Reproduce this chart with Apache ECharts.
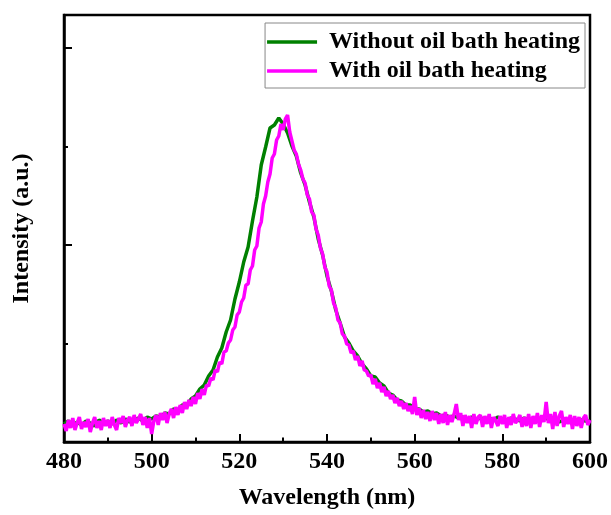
<!DOCTYPE html>
<html>
<head>
<meta charset="utf-8">
<script src="https://cdn.jsdelivr.net/npm/echarts@6/dist/echarts.min.js"></script>
<style>
html,body{margin:0;padding:0;background:#fff;}
#chart{width:611px;height:515px;}
</style>
</head>
<body>
<div id="chart"></div>
<script>
// Wavelength grid (nm)
const greenStart = 480, greenStep = 1;
const magentaStart = 480, magentaStep = 0.5;

// Without oil bath heating (1 nm steps, 480..600)
const greenValues = [
18,21,16,20,17,21,19,16,22,19,
21,18,22,19,23,20,22,24,21,25,
23,26,25,29,28,33,32,37,37,43,
46,53,57,66,72,85,94,110,122,143,
160,180,195,221,245,277,295,314,317,324,
318,309,296,286,269,257,240,225,203,187,
166,151,132,119,105,99,91,86,78,73,
66,65,59,56,49,47,42,41,37,37,
33,33,30,31,28,29,26,27,25,26,
24,25,23,25,22,24,23,24,22,25,
23,22,24,23,21,24,22,23,21,23,
24,21,23,20,22,21,22,20,22,21,
21
];

// With oil bath heating (0.5 nm steps, 480..600)
const magentaValues = [
18,11,22,14,24,12,19,25,13,20,
15,23,10,19,25,14,21,12,24,16,
22,14,25,17,12,24,19,26,15,22,
25,16,27,19,23,28,17,25,14,24,
8,21,27,17,29,22,30,19,28,33,
24,35,27,37,29,40,33,42,36,45,
38,49,43,53,47,57,56,64,62,72,
70,80,78,90,91,99,102,112,115,127,
130,140,144,157,158,172,176,192,196,214,
220,238,246,260,268,284,288,302,306,318,
312,323,327,310,301,292,288,278,272,263,
259,247,243,230,227,213,207,194,188,175,
170,156,152,139,134,122,119,108,106,98,
97,89,91,82,86,76,81,72,71,66,
67,58,63,54,59,50,55,46,51,43,
47,39,44,36,41,33,39,31,36,28,
45,27,34,24,32,23,30,21,31,22,
29,18,28,19,30,17,27,20,28,38,
22,29,16,27,19,26,14,28,18,25,
27,15,26,18,28,14,25,21,16,26,
18,27,14,25,17,28,19,22,27,15,
25,16,28,14,26,18,29,15,27,20,
40,19,28,13,30,16,26,31,15,25,
18,27,13,26,16,25,14,24,27,17,
22
];

const seriesNames = ['Without oil bath heating', 'With oil bath heating'];
const xAxisName = 'Wavelength (nm)';
const yAxisName = 'Intensity (a.u.)';

function pairs(start, step, vals) {
  return vals.map((v, i) => [start + i * step, v]);
}

const FONT = '"Liberation Serif", "Times New Roman", serif';
const chart = echarts.init(document.getElementById('chart'), null, {renderer: 'canvas'});
chart.setOption({
  animation: false,
  backgroundColor: '#ffffff',
  grid: {left: 64, right: 19, top: 15, bottom: 73, show: true, borderColor: '#000', borderWidth: 2.5, backgroundColor: 'transparent'},
  legend: {
    show: true,
    right: 26, top: 23,
    orient: 'vertical',
    itemWidth: 50, itemHeight: 3.5, itemGap: 5,
    padding: [7, 5, 5, 2],
    borderColor: '#888', borderWidth: 1,
    textStyle: {fontFamily: FONT, fontWeight: 'bold', fontSize: 24, color: '#000', padding: [0, 0, 0, 7]},
    icon: 'rect',
    data: seriesNames
  },
  xAxis: {
    type: 'value', min: 480, max: 600, interval: 20,
    name: xAxisName, nameLocation: 'middle', nameGap: 44,
    nameTextStyle: {fontFamily: FONT, fontWeight: 'bold', fontSize: 24, color: '#000'},
    axisLine: {lineStyle: {color: '#000', width: 2.5}},
    axisTick: {inside: true, length: 8, lineStyle: {color: '#000', width: 2}},
    minorTick: {show: true, splitNumber: 2, length: 4.5, lineStyle: {color: '#000', width: 2}},
    axisLabel: {fontFamily: FONT, fontWeight: 'bold', fontSize: 24, color: '#000', margin: 8},
    splitLine: {show: false}
  },
  yAxis: {
    type: 'value', min: 0, max: 427, interval: 197,
    name: yAxisName, nameLocation: 'middle', nameGap: 30,
    nameTextStyle: {fontFamily: FONT, fontWeight: 'bold', fontSize: 24, color: '#000'},
    axisLine: {lineStyle: {color: '#000', width: 2.5}},
    axisTick: {inside: true, length: 8, lineStyle: {color: '#000', width: 2}},
    minorTick: {show: true, splitNumber: 2, length: 4, lineStyle: {color: '#000', width: 2}},
    axisLabel: {show: false},
    splitLine: {show: false}
  },
  series: [
    {name: seriesNames[0], type: 'line', data: pairs(greenStart, greenStep, greenValues), showSymbol: false, symbol: 'none',
     lineStyle: {color: '#008000', width: 3.5}, itemStyle: {color: '#008000'}},
    {name: seriesNames[1], type: 'line', data: pairs(magentaStart, magentaStep, magentaValues), showSymbol: false, symbol: 'none',
     lineStyle: {color: '#ff00ff', width: 3.5}, itemStyle: {color: '#ff00ff'}}
  ]
});
</script>
</body>
</html>
